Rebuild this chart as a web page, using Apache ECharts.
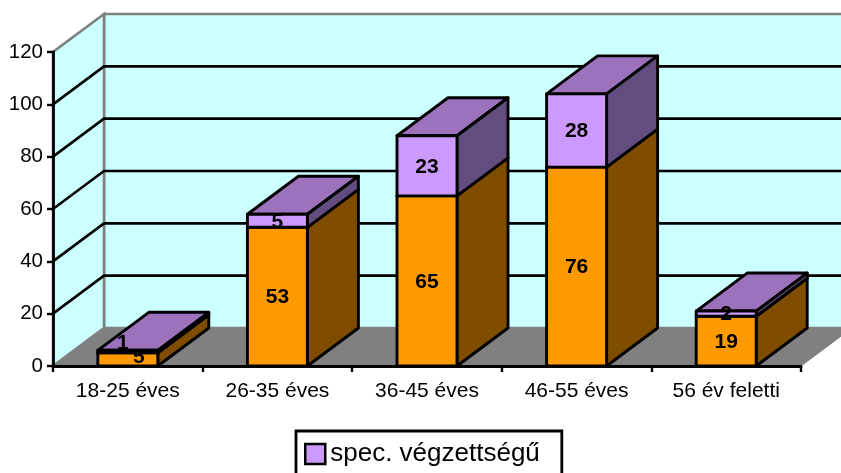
<!DOCTYPE html>
<html><head><meta charset="utf-8">
<style>html,body{margin:0;padding:0;background:#fff}#c{width:841px;height:473px}</style>
<script src="https://cdn.jsdelivr.net/npm/echarts@6/dist/echarts.min.js"></script>
</head><body><div id="c"></div>
<script>
const categories = ['18-25 éves','26-35 éves','36-45 éves','46-55 éves','56 év feletti'];
const baseValues = [5,53,65,76,19];
const specValues = [1,5,23,28,2];
const baseName = 'alap végzettségű';
const specName = 'spec. végzettségű';
const yTicks = [0,20,40,60,80,100,120];

const DX = 51, DY = -38, BAR_W = 60, LW = 2.9;
const FONT = '"Liberation Sans", Arial, sans-serif';
const ORANGE = {front:'#FF9900', top:'#C97A00', side:'#804D00'};
const PURPLE = {front:'#CC99FF', top:'#9C72BD', side:'#634D7F'};
const poly = (pts, fill) => ({type:'polygon', shape:{points:pts},
  style:{fill, stroke:'#000', lineWidth:LW, lineJoin:'round'}});

function barRenderer(colors, lowerArr, labelNudge){
  return function(params, api){
    const i = api.value(0), v = api.value(1), low = lowerArr ? lowerArr[i] : 0;
    const cx = api.coord([i,0])[0];
    const y0 = api.coord([i,low])[1], y1 = api.coord([i,low+v])[1];
    const l = cx-BAR_W/2, r = cx+BAR_W/2;
    const n = labelNudge[i] || [0,1];
    return {type:'group', children:[
      poly([[l,y1],[r,y1],[r+DX,y1+DY],[l+DX,y1+DY]], colors.top),
      poly([[r,y0],[r+DX,y0+DY],[r+DX,y1+DY],[r,y1]], colors.side),
      poly([[l,y0],[r,y0],[r,y1],[l,y1]], colors.front),
      {type:'text', z2:10, style:{x:cx+n[0], y:(y0+y1)/2+n[1], text:String(v),
        fill:'#000', font:'bold 21px '+FONT, textAlign:'center', textVerticalAlign:'middle'}}
    ]};
  };
}

function wallRenderer(params, api){
  const bw = api.size([1,0])[0];
  const xl = api.coord([0,0])[0]-bw/2, xr = xl+bw*categories.length;
  const yb = api.coord([0,0])[1], yt = api.coord([0,120])[1];
  const gray = '#808080';
  const ch = [
    {type:'polygon', shape:{points:[[xl+DX,yb+DY],[xr+DX,yb+DY],[xr+DX,yt+DY],[xl+DX,yt+DY]]}, style:{fill:'#CCFFFF',stroke:gray,lineWidth:2.6}},
    {type:'polygon', shape:{points:[[xl,yb],[xl+DX,yb+DY],[xl+DX,yt+DY],[xl,yt]]}, style:{fill:'#CCFFFF',stroke:gray,lineWidth:2.6}},
    {type:'polygon', shape:{points:[[xl,yb],[xl+DX,yb+DY],[xr+DX,yb+DY],[xr,yb]]}, style:{fill:gray,stroke:gray,lineWidth:1}}
  ];
  yTicks.slice(1,-1).forEach(t=>{
    const y = api.coord([0,t])[1];
    ch.push({type:'polyline', shape:{points:[[xl,y],[xl+DX,y+DY],[xr+DX,y+DY]]}, style:{fill:null,stroke:'#000',lineWidth:2.6}});
  });
  return {type:'group', children:ch};
}

const chart = echarts.init(document.getElementById('c'), null, {renderer:'canvas'});
chart.setOption({
  animation:false, backgroundColor:'#fff',
  textStyle:{fontFamily:FONT},
  grid:{left:53, right:40, top:52, bottom:107},
  xAxis:{type:'category', data:categories, boundaryGap:true, z:5,
    axisLine:{show:true,lineStyle:{color:'#000',width:2.8}},
    axisTick:{show:true,length:6,lineStyle:{color:'#000',width:2.4}},
    axisLabel:{color:'#000',fontSize:21,fontFamily:FONT,margin:15,interval:0}, splitLine:{show:false}},
  yAxis:{type:'value', min:0, max:120, interval:20, z:5,
    axisLine:{show:true,lineStyle:{color:'#000',width:2.8}},
    axisTick:{show:true,length:6,lineStyle:{color:'#000',width:2.4}},
    axisLabel:{color:'#000',fontSize:20.5,fontFamily:FONT,margin:10}, splitLine:{show:false}},
  legend:{show:true, data:[{name:specName, icon:'rect', itemStyle:{color:'#CC99FF',borderColor:'#000',borderWidth:2.5}}],
    left:296, top:431, itemWidth:20, itemHeight:20, padding:[10,22,25,8],
    borderColor:'#000', borderWidth:2.8, selectedMode:false,
    textStyle:{color:'#000',fontSize:26,fontFamily:FONT}},
  series:[
    {type:'custom', name:'walls', silent:true, z:1, clip:false, encode:{x:0,y:1}, data:[[0,0]], renderItem:wallRenderer},
    {type:'custom', name:baseName, z:2, clip:false, encode:{x:0,y:1}, itemStyle:{color:'#FF9900'},
      data:baseValues.map((v,i)=>[i,v]), renderItem:barRenderer(ORANGE,null,{0:[11,-2]})},
    {type:'custom', name:specName, z:3, clip:false, encode:{x:0,y:1}, itemStyle:{color:'#CC99FF'},
      data:specValues.map((v,i)=>[i,v]), renderItem:barRenderer(PURPLE,baseValues,{0:[-5,-8]})}
  ]
});
</script></body></html>
